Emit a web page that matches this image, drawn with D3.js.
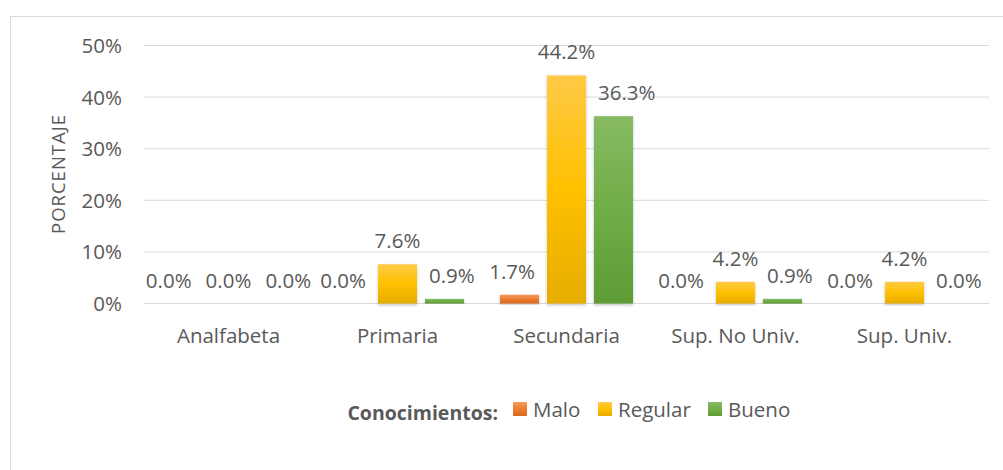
<!DOCTYPE html>
<html>
<head>
<meta charset="utf-8">
<script src="https://cdn.jsdelivr.net/npm/d3@7"></script>
<style>
  body { margin: 0; background: #fff; }
  svg text { font-family: "Open Sans", Lato, sans-serif; fill: #595959; }
</style>
</head>
<body>
<svg id="chart" width="1003" height="470"></svg>
<script>
const categories = ['Analfabeta', 'Primaria', 'Secundaria', 'Sup. No Univ.', 'Sup. Univ.'];
const seriesNames = ['Malo', 'Regular', 'Bueno'];
const malo = [0.0, 0.0, 1.7, 0.0, 0.0];
const regular = [0.0, 7.6, 44.2, 4.2, 4.2];
const bueno = [0.0, 0.9, 36.3, 0.9, 0.0];
const yTicks = [0, 10, 20, 30, 40, 50];

const seriesValues = [malo, regular, bueno];
const colors = {
    Malo: ['#f49a5c', '#ed7d31', '#d86a1f'],
    Regular: ['#ffca47', '#ffc000', '#e6ad00'],
    Bueno: ['#86ba63', '#70ad47', '#5e9c35']
};

const fontSize = '20.5px';
const svg = d3.select('#chart');

// outer frame
svg.append('rect')
    .attr('x', 10.5).attr('y', 16.5)
    .attr('width', 1000).attr('height', 470)
    .attr('fill', 'none')
    .attr('stroke', '#d9d9d9');

const defs = svg.append('defs');
seriesNames.forEach((name, i) => {
    const g = defs.append('linearGradient')
        .attr('id', 'grad' + i)
        .attr('x1', 0).attr('y1', 0).attr('x2', 0).attr('y2', 1);
    g.append('stop').attr('offset', '0%').attr('stop-color', colors[name][0]);
    g.append('stop').attr('offset', '50%').attr('stop-color', colors[name][1]);
    g.append('stop').attr('offset', '100%').attr('stop-color', colors[name][2]);
});
const shadow = defs.append('filter').attr('id', 'shadow')
    .attr('x', '-20%').attr('y', '-5%').attr('width', '140%').attr('height', '115%');
shadow.append('feDropShadow')
    .attr('dx', 0).attr('dy', 1.5).attr('stdDeviation', 1.5)
    .attr('flood-color', '#000').attr('flood-opacity', 0.25);

const plotLeft = 144, plotRight = 989, plotTop = 45.5, plotBottom = 303.5;

const x0 = d3.scaleBand()
    .domain(categories)
    .range([plotLeft, plotRight]);

const x1 = d3.scaleBand()
    .domain(seriesNames)
    .range([18, x0.bandwidth() - 18])
    .paddingInner(0.17);

const y = d3.scaleLinear()
    .domain([0, 50])
    .range([plotBottom, plotTop]);

// gridlines
svg.append('g')
    .selectAll('line')
    .data(yTicks)
    .join('line')
    .attr('x1', plotLeft).attr('x2', plotRight)
    .attr('y1', d => y(d)).attr('y2', d => y(d))
    .attr('stroke', '#d9d9d9')
    .attr('stroke-width', 1);

// y tick labels
svg.append('g')
    .selectAll('text')
    .data(yTicks)
    .join('text')
    .attr('x', 122)
    .attr('y', d => y(d) + 7.5)
    .attr('text-anchor', 'end')
    .style('font-size', fontSize)
    .text(d => d + '%');

// y axis title
svg.append('text')
    .attr('transform', 'translate(65,174) rotate(-90)')
    .attr('text-anchor', 'middle')
    .style('font-size', '18.5px')
    .style('letter-spacing', '1px')
    .text('PORCENTAJE');

// category labels
svg.append('g')
    .selectAll('text')
    .data(categories)
    .join('text')
    .attr('x', d => x0(d) + x0.bandwidth() / 2)
    .attr('y', 342.5)
    .attr('text-anchor', 'middle')
    .style('font-size', fontSize)
    .text(d => d);

// bars
const groups = svg.append('g')
    .selectAll('g')
    .data(categories)
    .join('g')
    .attr('transform', d => `translate(${x0(d)},0)`);

const cells = groups.selectAll('g')
    .data((d, ci) => seriesNames.map((s, si) => ({ s, si, v: seriesValues[si][ci] })))
    .join('g');

cells.append('rect')
    .attr('x', d => x1(d.s))
    .attr('width', x1.bandwidth())
    .attr('y', d => y(d.v))
    .attr('height', d => y(0) - y(d.v))
    .attr('fill', d => `url(#grad${d.si})`)
    .attr('filter', 'url(#shadow)');

cells.append('text')
    .attr('class', 'value')
    .attr('x', d => x1(d.s) + x1.bandwidth() / 2)
    .attr('y', d => y(d.v) - 16)
    .attr('text-anchor', 'middle')
    .style('font-size', fontSize)
    .text(d => d.v.toFixed(1) + '%');

// nudge data labels sideways when they crowd a neighbouring bar or label
const minGap = 5.8, barGap = 12, labelGap = 14;
groups.each(function (cat, ci) {
    const items = d3.select(this).selectAll('text.value').nodes().map((node, si) => {
        const base = +node.getAttribute('y');
        return { node, si, cx: +node.getAttribute('x'), w: node.getComputedTextLength(), top: base - 16, bottom: base + 4 };
    });

    items.forEach(it => {
        seriesNames.forEach((s, sj) => {
            if (sj === it.si || y(seriesValues[sj][ci]) >= it.bottom) return;
            const bl = x1(s), br = bl + x1.bandwidth();
            if (sj > it.si && bl - (it.cx + it.w / 2) < minGap) {
                it.cx = Math.min(it.cx, bl - barGap - it.w / 2);
            } else if (sj < it.si && (it.cx - it.w / 2) - br < minGap) {
                it.cx = Math.max(it.cx, br + barGap + it.w / 2);
            }
        });
    });

    const mid = 1;
    for (let i = 0; i < items.length - 1; i++) {
        const a = items[i], b = items[i + 1];
        if (a.bottom <= b.top || b.bottom <= a.top) continue;
        const gap = (b.cx - b.w / 2) - (a.cx + a.w / 2);
        if (gap >= minGap) continue;
        if (i < mid) a.cx = b.cx - b.w / 2 - labelGap - a.w / 2;
        else b.cx = a.cx + a.w / 2 + labelGap + b.w / 2;
    }

    items.forEach(it => d3.select(it.node).attr('x', it.cx));
});

// legend
const legend = svg.append('g');
legend.append('text')
    .attr('x', 498).attr('y', 420)
    .attr('text-anchor', 'end')
    .style('font-size', '19.5px')
    .style('font-weight', 'bold')
    .text('Conocimientos:');

const legendX = [513, 598, 708];
seriesNames.forEach((name, i) => {
    legend.append('rect')
        .attr('x', legendX[i]).attr('y', 402)
        .attr('width', 14).attr('height', 14)
        .attr('fill', `url(#grad${i})`);
    legend.append('text')
        .attr('x', legendX[i] + 20).attr('y', 416.5)
        .style('font-size', fontSize)
        .text(name);
});
</script>
</body>
</html>
